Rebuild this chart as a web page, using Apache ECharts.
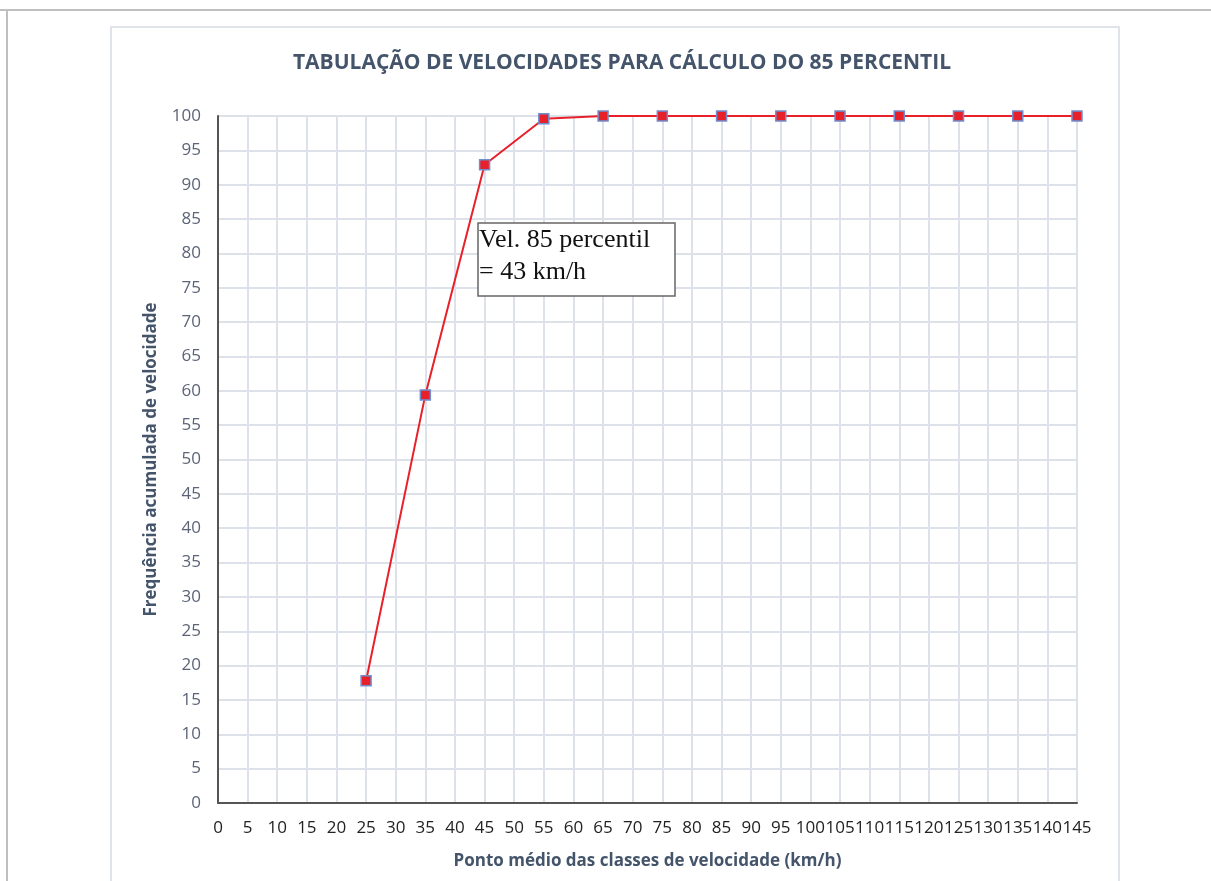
<!DOCTYPE html>
<html><head><meta charset="utf-8">
<script src="https://cdn.jsdelivr.net/npm/echarts@6/dist/echarts.min.js"></script>
<style>html,body{margin:0;padding:0;background:#fff}#c{width:1211px;height:881px}</style>
</head><body><div id="c"></div>
<script>
const speeds = [25, 35, 45, 55, 65, 75, 85, 95, 105, 115, 125, 135, 145];
const cumFreq = [17.8, 59.4, 92.9, 99.6, 100, 100, 100, 100, 100, 100, 100, 100, 100];
const titleText = 'TABULAÇÃO DE VELOCIDADES PARA CÁLCULO DO 85 PERCENTIL';
const xName = 'Ponto médio das classes de velocidade (km/h)';
const yName = 'Frequência acumulada de velocidade';
const noteLines = ['Vel. 85 percentil', '= 43 km/h'];

const chart = echarts.init(document.getElementById('c'));
chart.setOption({
  backgroundColor: '#fff',
  animation: false,
  title: {
    text: titleText, left: 617, top: 48, textAlign: 'center',
    textStyle: {fontFamily: 'Open Sans', fontWeight: 'bold', fontSize: 21, color: '#44546a'}
  },
  grid: {left: 218, right: 134, top: 116, bottom: 78, containLabel: false},
  xAxis: {
    type: 'value', min: 0, max: 145, interval: 5,
    name: xName, nameLocation: 'middle', nameGap: 50,
    nameTextStyle: {fontFamily: 'Open Sans', fontWeight: 'bold', fontSize: 17, color: '#44546a'},
    axisLine: {lineStyle: {color: '#555', width: 2}},
    axisTick: {show: false},
    axisLabel: {fontFamily: 'Open Sans', fontSize: 17, color: '#222', margin: 17, showMinLabel: true, showMaxLabel: true},
    splitLine: {show: true, lineStyle: {color: '#dde2ea', width: 2}}
  },
  yAxis: {
    type: 'value', min: 0, max: 100, interval: 5,
    name: yName, nameLocation: 'middle', nameGap: 58, nameRotate: 90,
    nameTextStyle: {fontFamily: 'Open Sans', fontWeight: 'bold', fontSize: 17, color: '#44546a'},
    axisLine: {show: true, lineStyle: {color: '#555', width: 2}},
    axisTick: {show: false},
    axisLabel: {fontFamily: 'Open Sans', fontSize: 17, color: '#5b6478', margin: 17},
    splitLine: {show: true, lineStyle: {color: '#dde2ea', width: 2}}
  },
  series: [{
    type: 'line',
    data: speeds.map((s, i) => [s, cumFreq[i]]),
    symbol: 'rect', symbolSize: 10,
    lineStyle: {color: '#e8202a', width: 2},
    itemStyle: {color: '#e8202a', borderColor: '#6f8fd0', borderWidth: 1.5},
    z: 5
  }],
  graphic: [
    {type: 'line', shape: {x1: 0, y1: 10, x2: 1211, y2: 10}, style: {stroke: '#bfbfbf', lineWidth: 2}, silent: true},
    {type: 'line', shape: {x1: 7, y1: 10, x2: 7, y2: 881}, style: {stroke: '#bfbfbf', lineWidth: 2}, silent: true},
    {type: 'rect', shape: {x: 111, y: 27, width: 1008, height: 870}, style: {fill: 'none', stroke: '#dfe3ea', lineWidth: 2}, silent: true, z: -1},
    {type: 'rect', shape: {x: 478, y: 223, width: 197, height: 73}, style: {fill: '#fff', stroke: '#666', lineWidth: 1.5}, z: 10},
    {type: 'text', x: 479, y: 224, z: 11, style: {text: noteLines.join('\n'), font: '26px "Liberation Serif"', fill: '#111', lineHeight: 32}}
  ]
});
</script></body></html>
